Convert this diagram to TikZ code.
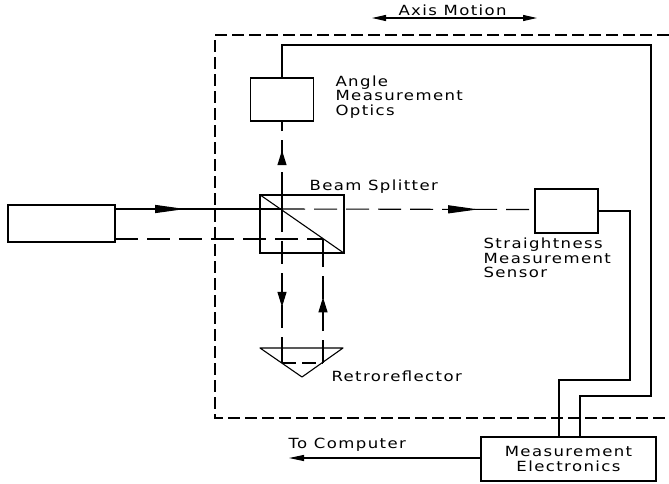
\documentclass[tikz,border=0pt]{standalone}
\usepackage{fontspec}
\setmainfont[LetterSpace=10,FakeStretch=1.18]{DejaVu Sans}
\usetikzlibrary{arrows.meta, decorations.markings}

\tikzset{
    every path/.style={line width=1.1pt},
    optic/.style={draw, inner sep=0pt},
    txt/.style={font=\fontsize{14}{14.5}\selectfont, align=left, anchor=west, inner sep=0pt},
    beam/.style={dash pattern=on 23pt off 9pt},
    longtip/.style={postaction={decorate}, decoration={markings, mark=at position #1 with {\arrow{Stealth[length=30pt,width=8pt,inset=0pt]}}}},
    shorttip/.style={postaction={decorate}, decoration={markings, mark=at position #1 with {\arrow{Stealth[length=15pt,width=9pt,inset=0pt]}}}}
}

\begin{document}
\begin{tikzpicture}[x=1pt, y=-1pt, >=Stealth]
        \useasboundingbox (0,0) rectangle (669,483);

        % Moving frame
        \draw[dash pattern=on 12pt off 5pt] (669,35) -- (215,35) -- (215,418) -- (669,418);

        % Boxes
        \node[optic, minimum width=107pt, minimum height=37pt] (source) at (61.5,223.5) {};
        \node[optic, minimum width=63pt, minimum height=43pt] (angle) at (282,99.5) {};
        \node[optic, minimum width=84pt, minimum height=58pt] (splitter) at (302,224) {};
        \node[optic, minimum width=63pt, minimum height=44pt] (sensor) at (566.5,211) {};
        \node[optic, minimum width=175pt, minimum height=44pt, font=\fontsize{14}{15}\selectfont, align=center] (electronics) at (568.5,459) {Measurement\\Electronics};

        % Retroreflector
        \coordinate (retroleft) at (260,348);
        \coordinate (retroright) at (343,348);
        \coordinate (retrotip) at (302,377);
        \draw[line join=round] (retroleft) -- (retroright) -- (retrotip) -- cycle;
        \draw (splitter.north west) -- (splitter.south east);

        % Beam corners
        \coordinate (outstart) at (115,209);
        \coordinate (outhit) at (282,209);
        \coordinate (retstart) at (115,239);
        \coordinate (rethit) at (323,239);
        \coordinate (downend) at (282,363);
        \coordinate (upend) at (323,363);
        \coordinate (sensorin) at (535,209.5);

        % Beams
        \draw[longtip=0.42] (outstart) -- (outhit);
        \draw[beam, longtip=0.775] (outhit) -- (sensorin);
        \draw[beam] (retstart) -- (rethit);
        \draw[beam, shorttip=0.61] (282,195) -- (angle.south);
        \draw[beam, shorttip=0.636] (outhit) -- (downend);
        \draw[beam, shorttip=0.53] (upend) -- (rethit);
        \draw[dash pattern=on 14pt off 6pt] (downend) -- (upend);

        % Solid pieces inside the optics
        \draw (outhit) -- (282,195);
        \draw (rethit) -- (323,253);
        \draw (282,348) -- (downend);
        \draw (323,348) -- (upend);

        % Cables
        \draw (electronics.north -| 580,0) |- (651,396) |- (282,45) -- (angle.north);
        \draw (electronics.north -| 559,0) |- (630,380) |- (sensor.east);
        \draw[-{Stealth[length=15pt,width=6pt,inset=0pt]}] (electronics.west |- 0,458) -- (289,458);

        % Axis arrow
        \coordinate (axisleft) at (372,18);
        \coordinate (axisright) at (537,18);
        \draw[{Stealth[length=14pt,width=6pt,inset=0pt]}-{Stealth[length=14pt,width=6pt,inset=0pt]}] (axisleft) -- (axisright);

        % Labels
        \node[txt] (axislabel) at (398,10) {Axis Motion};
        \node[txt] (anglelabel) at (335,97) {Angle\\Measurement\\Optics};
        \node[txt] (splitterlabel) at (309,187) {Beam Splitter};
        \node[txt] (sensorlabel) at (483,258) {Straightness\\Measurement\\Sensor};
        \node[txt] (retrolabel) at (331,376) {Retroreflector};
        \node[txt] (computerlabel) at (288,445) {To Computer};
    \end{tikzpicture}
\end{document}
